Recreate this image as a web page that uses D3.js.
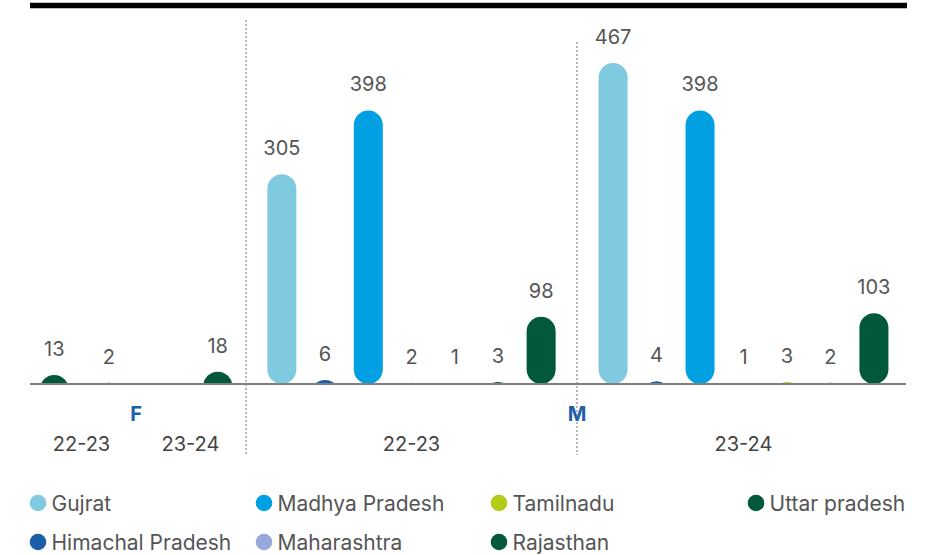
<!DOCTYPE html>
<html>
<head>
<meta charset="utf-8">
<script src="https://cdn.jsdelivr.net/npm/d3@7"></script>
<style>
  body { margin: 0; background: #fff; }
  svg { display: block; font-family: Inter, "Noto Sans", sans-serif; }
</style>
</head>
<body>
<div id="chart"></div>
<script>
// data
const states = ["Gujrat", "Himachal Pradesh", "Madhya Pradesh", "Maharashtra", "Tamilnadu", "Rajasthan", "Uttar pradesh"];
const stateColors = ["#7fcadf", "#1c5ea8", "#00a0e2", "#97a7d8", "#b4cb17", "#02583a", "#02583a"];
const groupLabels = ["F", "M"];
const yearLabels = ["22-23", "23-24"];
const fStates = ["Rajasthan", "Uttar pradesh"];
const fValues2223 = [13, 2];
const fValues2324 = [null, 18];
const mValues2223 = [305, 6, 398, 2, 1, 3, 98];
const mValues2324 = [467, 4, 398, 1, 3, 2, 103];

const width = 937;
const height = 555;
const yBase = 384;
const yTop = 63;
const barWidth = 29;

const color = d3.scaleOrdinal().domain(states).range(stateColors);

const y = d3.scaleLinear()
  .domain([0, d3.max([...mValues2223, ...mValues2324, ...fValues2223, ...fValues2324])])
  .range([yBase, yTop]);

// each (group, year) cell with its x extent
const cells = [
  { group: "F", year: yearLabels[0], keys: fStates, values: fValues2223, range: [27, 136], pad: 0 },
  { group: "F", year: yearLabels[1], keys: fStates, values: fValues2324, range: [136, 245], pad: 0 },
  { group: "M", year: yearLabels[0], keys: states, values: mValues2223, range: [246, 577], pad: 0.33 },
  { group: "M", year: yearLabels[1], keys: states, values: mValues2324, range: [577, 910], pad: 0.33 }
];

const svg = d3.select("#chart").append("svg")
  .attr("width", width)
  .attr("height", height)
  .attr("viewBox", [0, 0, width, height]);

svg.append("defs").append("clipPath")
  .attr("id", "above-base")
  .append("rect")
  .attr("x", 0).attr("y", 0)
  .attr("width", width).attr("height", yBase);

// top rule
svg.append("line")
  .attr("x1", 30).attr("x2", 907)
  .attr("y1", 5.5).attr("y2", 5.5)
  .attr("stroke", "#000")
  .attr("stroke-width", 5.5);

// dotted separators
[[246, 20], [577, 42]].forEach(([x, y1]) => {
  svg.append("line")
    .attr("x1", x).attr("x2", x)
    .attr("y1", y1).attr("y2", 455)
    .attr("stroke", "#8a8a8a")
    .attr("stroke-width", 1.2)
    .attr("stroke-dasharray", "2,2");
});

const barsG = svg.append("g").attr("clip-path", "url(#above-base)");
const labelsG = svg.append("g");

cells.forEach((cell) => {
  const x = d3.scaleBand()
    .domain(cell.keys)
    .range(cell.range)
    .paddingInner(0)
    .paddingOuter(cell.pad);

  const rows = cell.keys.map((k, i) => ({ key: k, value: cell.values[i] }))
    .filter((d) => d.value != null);

  barsG.selectAll(null)
    .data(rows)
    .join("rect")
    .attr("x", (d) => x(d.key) + x.bandwidth() / 2 - barWidth / 2)
    .attr("y", (d) => y(d.value))
    .attr("width", barWidth)
    .attr("height", (d) => Math.max(yBase - y(d.value), barWidth))
    .attr("rx", barWidth / 2)
    .attr("fill", (d) => color(d.key));

  labelsG.selectAll(null)
    .data(rows)
    .join("text")
    .attr("x", (d) => x(d.key) + x.bandwidth() / 2)
    .attr("y", (d) => y(d.value) - 19)
    .attr("text-anchor", "middle")
    .attr("font-size", 20)
    .attr("fill", "#555")
    .text((d) => d.value);

  // year label
  svg.append("text")
    .attr("x", (cell.range[0] + cell.range[1]) / 2)
    .attr("y", 451)
    .attr("text-anchor", "middle")
    .attr("font-size", 20)
    .attr("fill", "#444")
    .text(cell.year);
});

// baseline
svg.append("line")
  .attr("x1", 30).attr("x2", 906)
  .attr("y1", yBase).attr("y2", yBase)
  .attr("stroke", "#7f7f7f")
  .attr("stroke-width", 2);

// group labels
groupLabels.forEach((g) => {
  const gc = cells.filter((c) => c.group === g);
  const x0 = d3.min(gc, (c) => c.range[0]);
  const x1 = g === "M" ? gc[0].range[1] : d3.max(gc, (c) => c.range[1]);
  svg.append("text")
    .attr("x", g === "M" ? x1 : (x0 + x1) / 2)
    .attr("y", 421)
    .attr("text-anchor", "middle")
    .attr("font-size", 20)
    .attr("font-weight", "700")
    .attr("fill", "#1c5ea8")
    .text(g);
});

// legend
const legendCols = [38, 264, 499, 756];
const legendRows = [503, 542];
const legend = svg.append("g")
  .selectAll("g")
  .data(states)
  .join("g")
  .attr("transform", (d, i) => `translate(${legendCols[Math.floor(i / 2)]},${legendRows[i % 2]})`);

legend.append("circle")
  .attr("r", 8.3)
  .attr("fill", (d) => color(d));

legend.append("text")
  .attr("x", 13.5)
  .attr("y", 7.5)
  .attr("font-size", 21)
  .attr("fill", "#555")
  .text((d) => d);
</script>
</body>
</html>
